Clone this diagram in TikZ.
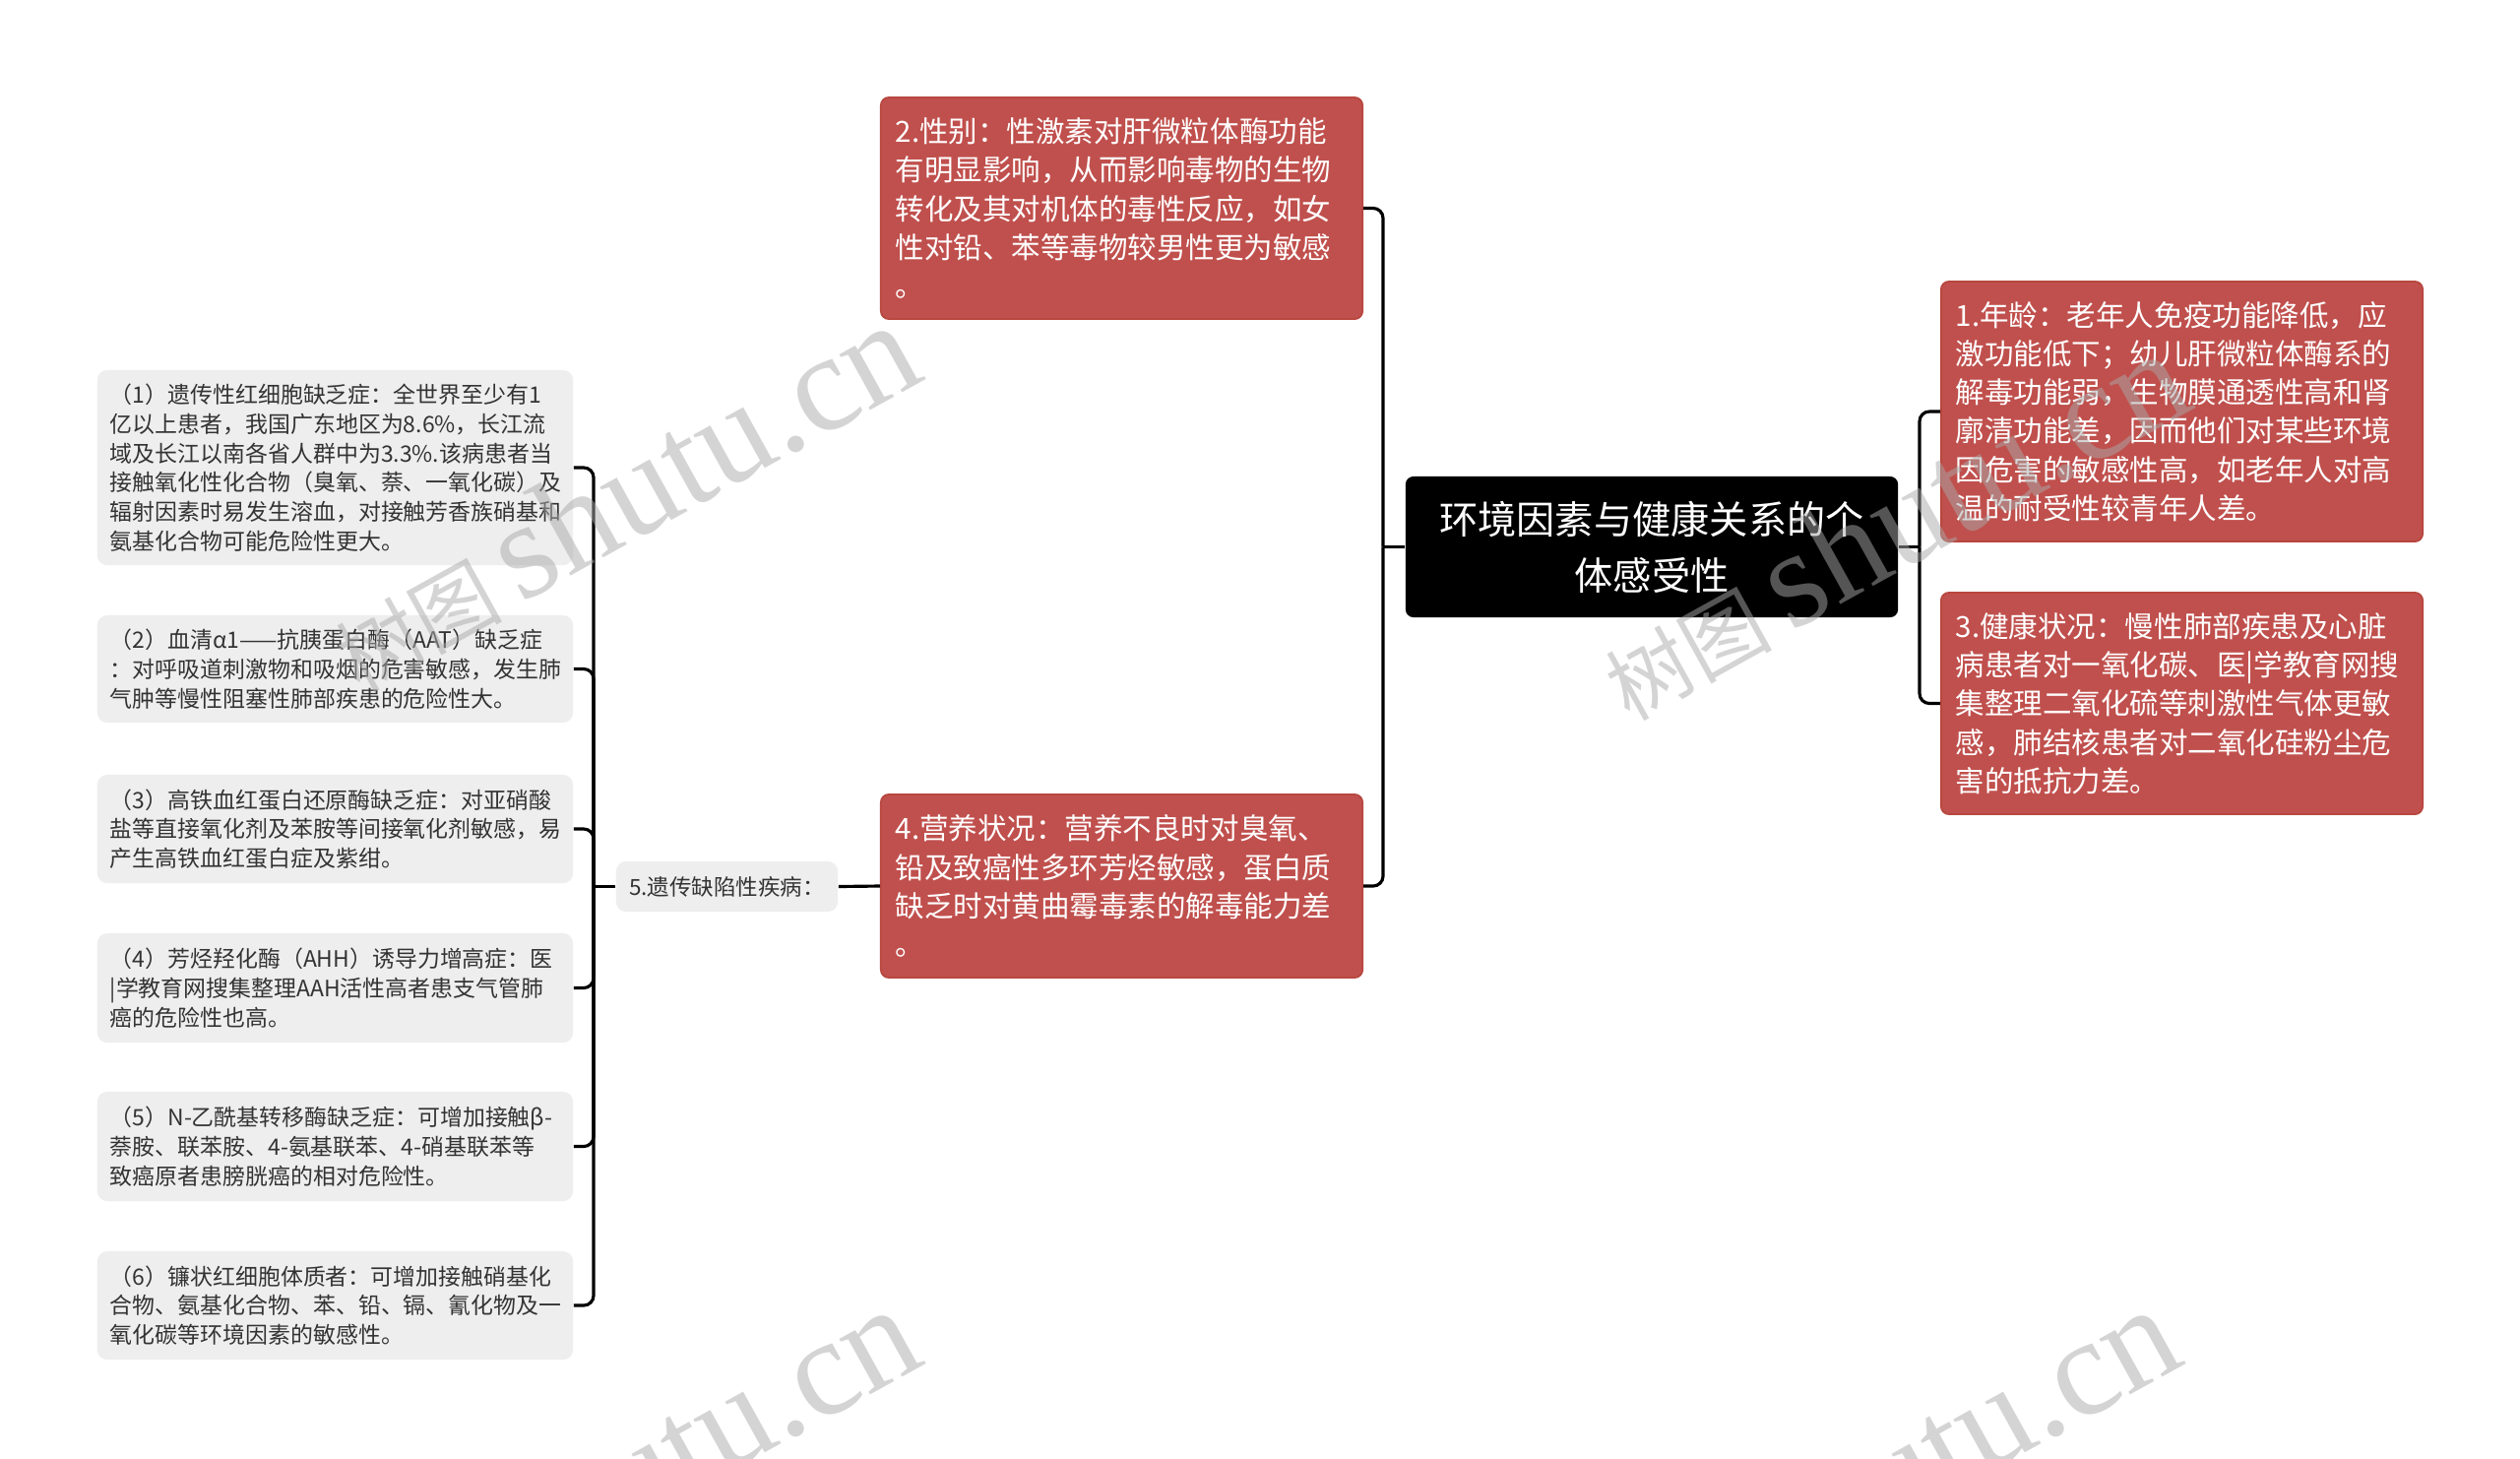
\documentclass[tikz,border=0pt]{standalone}
\usepackage{fontspec}
\setmainfont{Noto Sans CJK SC}
\newfontfamily\wmserif{Liberation Serif}
\definecolor{nodered}{HTML}{C0504D}
\definecolor{noderedline}{HTML}{B8473F}
\definecolor{leafgray}{HTML}{EEEEEE}
\definecolor{leaftext}{HTML}{333333}
\definecolor{wmgray}{HTML}{AAAAAA}
\tikzset{
  redbox/.style={rectangle, rounded corners=0.08cm, fill=nodered, draw=noderedline, line width=0.5pt,
    text=white, font=\fontsize{8.39pt}{11.16pt}\selectfont, align=left,
    inner xsep=0.15cm, inner ysep=0pt, text width=4.59cm},
  rootbox/.style={rectangle, rounded corners=0.08cm, fill=black, text=white,
    font=\fontsize{11.15pt}{16.2pt}\selectfont, align=center,
    minimum width=5cm, minimum height=1.43cm, inner sep=0pt},
  leafbox/.style={rectangle, rounded corners=0.1cm, fill=leafgray, text=leaftext,
    font=\fontsize{6.52pt}{8.45pt}\selectfont, align=left,
    inner xsep=0.13cm, inner ysep=0pt, text width=4.57cm},
  midbox/.style={rectangle, rounded corners=0.1cm, fill=leafgray, text=leaftext,
    font=\fontsize{6.4pt}{8.4pt}\selectfont, align=center,
    minimum width=2.25cm, minimum height=0.51cm, inner sep=0pt},
  link/.style={draw=black, line width=0.9pt, rounded corners=0.1cm},
  wmark/.style={text=wmgray, opacity=0.5, rotate=29, anchor=west, inner sep=0pt}
}
\newcommand\wmtext{\fontsize{24pt}{24pt}\selectfont 树图 {\wmserif\fontsize{40pt}{40pt}\selectfont shutu.cn}}
\begin{document}
\begin{tikzpicture}[x=0.01cm, y=-0.01cm]
\useasboundingbox[fill=white] (0,0) rectangle (2560,1481);

% root
\node[rootbox] (root) at (1678,555.5) {环境因素与健康关系的个\\体感受性};

% red nodes
\node[redbox, minimum height=2.25cm] (n2) at (1139.5,211.5) {2.性别：性激素对肝微粒体酶功能\\有明显影响，从而影响毒物的生物\\转化及其对机体的毒性反应，如女\\性对铅、苯等毒物较男性更为敏感\\。};
\node[redbox, minimum height=1.86cm] (n4) at (1139.5,900) {4.营养状况：营养不良时对臭氧、\\铅及致癌性多环芳烃敏感，蛋白质\\缺乏时对黄曲霉毒素的解毒能力差\\。};
\node[redbox, minimum height=2.64cm] (n1) at (2216.5,418) {1.年龄：老年人免疫功能降低，应\\激功能低下；幼儿肝微粒体酶系的\\解毒功能弱，生物膜通透性高和肾\\廓清功能差，因而他们对某些环境\\因危害的敏感性高，如老年人对高\\温的耐受性较青年人差。};
\node[redbox, minimum height=2.25cm] (n3) at (2216.5,714.5) {3.健康状况：慢性肺部疾患及心脏\\病患者对一氧化碳、医|学教育网搜\\集整理二氧化硫等刺激性气体更敏\\感，肺结核患者对二氧化硅粉尘危\\害的抵抗力差。};

% middle label
\node[midbox] (n5) at (738.5,900.5) {5.遗传缺陷性疾病：};

% leaves
\node[leafbox, minimum height=1.98cm] (l1) at (340.5,475) {（1）遗传性红细胞缺乏症：全世界至少有1\\亿以上患者，我国广东地区为8.6\%，长江流\\域及长江以南各省人群中为3.3\%.该病患者当\\接触氧化性化合物（臭氧、萘、一氧化碳）及\\辐射因素时易发生溶血，对接触芳香族硝基和\\氨基化合物可能危险性更大。};
\node[leafbox, minimum height=1.09cm] (l2) at (340.5,679.5) {（2）血清α1——抗胰蛋白酶（AAT）缺乏症\\：对呼吸道刺激物和吸烟的危害敏感，发生肺\\气肿等慢性阻塞性肺部疾患的危险性大。};
\node[leafbox, minimum height=1.10cm] (l3) at (340.5,842) {（3）高铁血红蛋白还原酶缺乏症：对亚硝酸\\盐等直接氧化剂及苯胺等间接氧化剂敏感，易\\产生高铁血红蛋白症及紫绀。};
\node[leafbox, minimum height=1.11cm] (l4) at (340.5,1003.5) {（4）芳烃羟化酶（AHH）诱导力增高症：医\\|学教育网搜集整理AAH活性高者患支气管肺\\癌的危险性也高。};
\node[leafbox, minimum height=1.11cm] (l5) at (340.5,1164.5) {（5）N-乙酰基转移酶缺乏症：可增加接触β-\\萘胺、联苯胺、4-氨基联苯、4-硝基联苯等\\致癌原者患膀胱癌的相对危险性。};
\node[leafbox, minimum height=1.10cm] (l6) at (340.5,1326) {（6）镰状红细胞体质者：可增加接触硝基化\\合物、氨基化合物、苯、铅、镉、氰化物及一\\氧化碳等环境因素的敏感性。};

% junctions
\coordinate (jL) at (1405,555.5);
\coordinate (jR) at (1950,555.5);
\coordinate (jC) at (603,900.5);

% connectors
\draw[link] (root.west) -- (jL);
\draw[link] (n2.east) -| (jL);
\draw[link] (n4.east) -| (jL);
\draw[link] (root.east) -- (jR);
\draw[link] (n1.west) -| (jR);
\draw[link] (n3.west) -| (jR);
\draw[link] (n4.west) -- (n5.east);
\draw[link] (n5.west) -- (jC);
\foreach \l in {l1,l2,l3,l4,l5,l6} {\draw[link] (\l.east) -| (jC);}

% watermarks
\node[wmark] (w1) at (343,665) {\wmtext};
\node[wmark] (w2) at (1633,694) {\wmtext};
\node[wmark] (w3) at (343,1665) {\wmtext};
\node[wmark] (w4) at (1623,1665) {\wmtext};
\end{tikzpicture}
\end{document}
